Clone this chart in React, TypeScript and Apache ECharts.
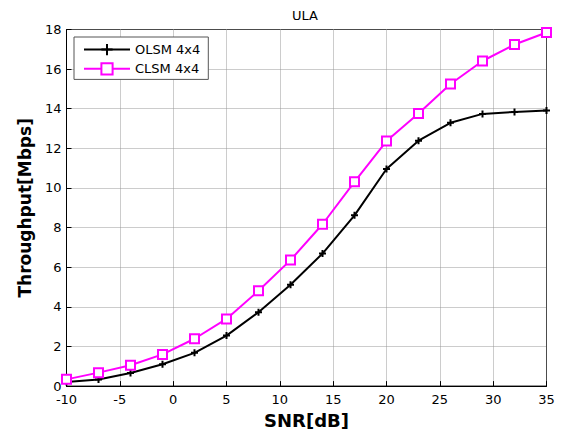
import React, { useEffect, useRef } from "react";
import * as echarts from "echarts";

const snr = [-10, -7, -4, -1, 2, 5, 8, 11, 14, 17, 20, 23, 26, 29, 32, 35];
const olsm = [0.21, 0.33, 0.66, 1.1, 1.68, 2.55, 3.73, 5.12, 6.69, 8.62, 10.96, 12.39, 13.29, 13.74, 13.84, 13.91];
const clsm = [0.34, 0.68, 1.05, 1.6, 2.39, 3.39, 4.81, 6.36, 8.17, 10.31, 12.37, 13.76, 15.25, 16.41, 17.24, 17.85];
const seriesNames = ["OLSM 4x4", "CLSM 4x4"];
const titleText = "ULA";
const xName = "SNR[dB]";
const yName = "Throughput[Mbps]";

export default function App() {
  const ref = useRef<HTMLDivElement>(null);
  useEffect(() => {
    if (!ref.current) return;
    const chart = echarts.init(ref.current, null, { renderer: "svg" });
    const font = "DejaVu Sans";
    chart.setOption({
      animation: false,
      backgroundColor: "#fff",
      title: {
        text: titleText,
        left: 292,
        top: 9,
        padding: 0,
        textStyle: { fontFamily: font, fontSize: 13, fontWeight: "normal", color: "#000" },
      },
      grid: {
        left: 66.5,
        right: 18.5,
        top: 29.5,
        bottom: 46.5,
        show: true,
        borderColor: "#000",
        borderWidth: 1,
        backgroundColor: "#fff",
      },
      legend: {
        left: 74,
        top: 37,
        orient: "vertical",
        backgroundColor: "#fff",
        borderColor: "#555",
        borderWidth: 1,
        borderRadius: 0,
        padding: [6, 8, 4, 9],
        itemGap: 6,
        itemWidth: 46,
        itemHeight: 14,
        textStyle: { fontFamily: font, fontSize: 13, color: "#000" },
        data: seriesNames,
      },
      xAxis: {
        type: "value",
        min: -10,
        max: 35,
        interval: 5,
        name: xName,
        nameLocation: "middle",
        nameGap: 22,
        nameTextStyle: { fontFamily: font, fontSize: 18, fontWeight: "bold", color: "#000" },
        axisLine: { show: true, onZero: false, lineStyle: { color: "#000", width: 1 } },
        axisTick: { show: true, inside: true, length: 5, lineStyle: { color: "#000" } },
        axisLabel: { fontFamily: font, fontSize: 13, color: "#000", margin: 7 },
        splitLine: { show: true, lineStyle: { color: "#999", type: "dotted", width: 1 } },
      },
      yAxis: {
        type: "value",
        min: 0,
        max: 18,
        interval: 2,
        name: yName,
        nameLocation: "middle",
        nameGap: 33,
        nameTextStyle: { fontFamily: font, fontSize: 17, fontWeight: "bold", color: "#000" },
        axisLine: { show: true, onZero: false, lineStyle: { color: "#000", width: 1 } },
        axisTick: { show: true, inside: true, length: 5, lineStyle: { color: "#000" } },
        axisLabel: { fontFamily: font, fontSize: 13, color: "#000", margin: 5 },
        splitLine: { show: true, lineStyle: { color: "#999", type: "dotted", width: 1 } },
      },
      series: [
        {
          name: seriesNames[0],
          type: "line",
          data: snr.map((x, i) => [x, olsm[i]]),
          symbol: "path://M0,5 L10,5 M5,0 L5,10",
          symbolSize: 7,
          showSymbol: true,
          lineStyle: { color: "#000", width: 2 },
          itemStyle: { color: "#000", borderColor: "#000", borderWidth: 2 },
          z: 3,
        },
        {
          name: seriesNames[1],
          type: "line",
          data: snr.map((x, i) => [x, clsm[i]]),
          symbol: "emptyRect",
          symbolSize: 9,
          lineStyle: { color: "#ff00ff", width: 2 },
          itemStyle: { color: "#ff00ff", borderColor: "#ff00ff", borderWidth: 2 },
          z: 4,
        },
      ],
    });
    return () => chart.dispose();
  }, []);
  return <div ref={ref} style={{ width: 565, height: 434, position: "absolute", left: 0, top: 0 }} />;
}
